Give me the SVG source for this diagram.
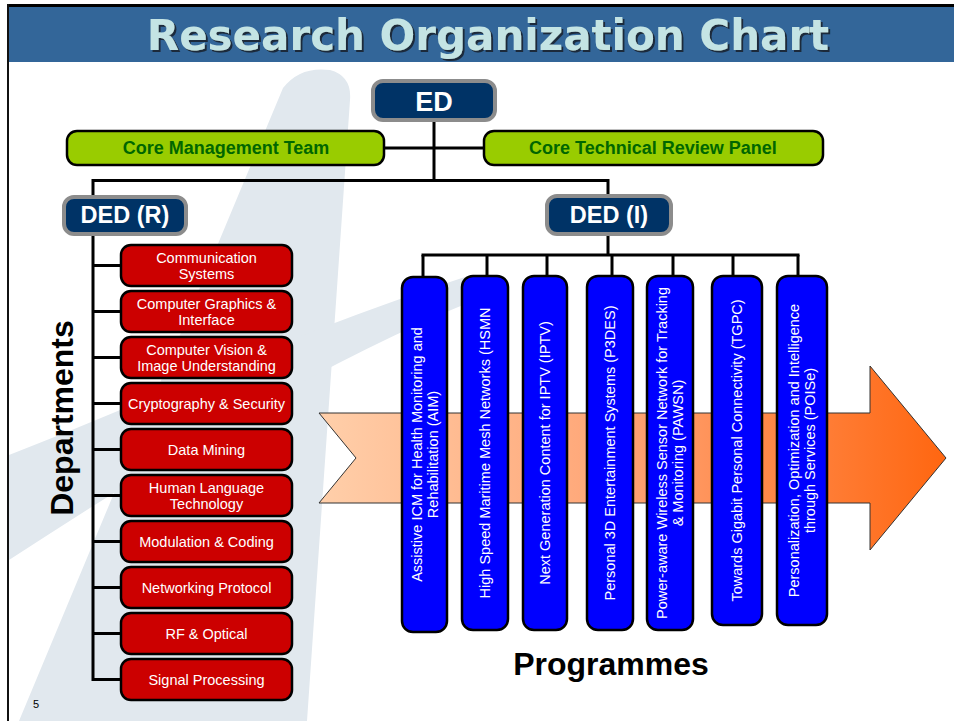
<svg xmlns="http://www.w3.org/2000/svg" width="954" height="721" viewBox="0 0 954 721">
<defs>
<linearGradient id="arrowGrad" x1="319" y1="0" x2="946" y2="0" gradientUnits="userSpaceOnUse">
<stop offset="0" stop-color="#ffcfaa"/>
<stop offset="0.5" stop-color="#ffa272"/>
<stop offset="1" stop-color="#ff6610"/>
</linearGradient>
<filter id="titleShadow" x="-5%" y="-20%" width="110%" height="140%">
<feDropShadow dx="2" dy="2" stdDeviation="0.4" flood-color="#1a2a3a" flood-opacity="1"/>
</filter>
</defs>
<style>
.sans{font-family:"Liberation Sans",Arial,sans-serif}
.exec{fill:#003366;stroke:#8c8c8c;stroke-width:4}
.exect{fill:#ffffff;font-weight:bold;text-anchor:middle}
.core{fill:#99cc00;stroke:#000;stroke-width:2.5}
.coret{fill:#006600;font-weight:bold;font-size:18px;text-anchor:middle}
.dept{fill:#cc0000;stroke:#000;stroke-width:2.5}
.deptt{fill:#ffffff;font-size:14.5px;text-anchor:middle}
.prog{fill:#0000ff;stroke:#000;stroke-width:2.5}
.progt{fill:#ffffff;font-size:14.5px;text-anchor:middle}
.conn{stroke:#000;stroke-width:3;fill:none}
.wm{fill:#e1e8ee}
</style>
<rect x="0" y="0" width="954" height="721" fill="#ffffff"/>
<!-- watermark -->
<g id="watermark">
<path class="wm" d="M283 88 Q300 66 330 70 Q352 76 350 100 L307 721 L19 721 Z"/>
<path d="M230 400 C300 360 380 320 470 285" stroke="#ffffff" stroke-width="10" fill="none" opacity="0.9"/>
<path class="wm" d="M9 455 C150 400 300 330 468 276 L480 298 C320 362 160 462 9 560 Z"/>
</g>
<!-- frame and title -->
<g id="title">
<rect x="9" y="6" width="945" height="56" fill="#336699"/>
<line x1="7" y1="5.5" x2="954" y2="5.5" stroke="#000" stroke-width="3"/>
<line x1="8" y1="4" x2="8" y2="721" stroke="#111" stroke-width="2"/>
<text x="488" y="50" font-family="DejaVu Sans,Verdana,sans-serif" font-weight="bold" font-size="42" text-anchor="middle" fill="#c4e4e4" filter="url(#titleShadow)">Research Organization Chart</text>
</g>
<!-- big arrow -->
<g id="arrow">
<path d="M319 413 L870 413 L870 366 L946 458 L870 550 L870 503 L319 503 L356 458 Z" fill="url(#arrowGrad)" stroke="#333" stroke-width="1"/>
</g>
<!-- connectors -->
<g id="connectors" class="conn">
<line x1="434" y1="121" x2="434" y2="181"/>
<line x1="384" y1="148" x2="484" y2="148"/>
<polyline points="93,197 93,180.5 608,180.5 608,195"/>
<line x1="93" y1="234" x2="93" y2="681"/>
<line x1="92" y1="265.5" x2="121" y2="265.5"/>
<line x1="92" y1="311.5" x2="121" y2="311.5"/>
<line x1="92" y1="357.5" x2="121" y2="357.5"/>
<line x1="92" y1="403.5" x2="121" y2="403.5"/>
<line x1="92" y1="449.5" x2="121" y2="449.5"/>
<line x1="92" y1="495.5" x2="121" y2="495.5"/>
<line x1="92" y1="541.5" x2="121" y2="541.5"/>
<line x1="92" y1="587.5" x2="121" y2="587.5"/>
<line x1="92" y1="633.5" x2="121" y2="633.5"/>
<line x1="92" y1="679.5" x2="121" y2="679.5"/>
<line x1="608" y1="235" x2="608" y2="255"/>
<line x1="421.5" y1="255" x2="799.5" y2="255"/>
<line x1="423" y1="255" x2="423" y2="277"/>
<line x1="487" y1="255" x2="487" y2="276"/>
<line x1="547" y1="255" x2="547" y2="276"/>
<line x1="612" y1="255" x2="612" y2="276"/>
<line x1="673" y1="255" x2="673" y2="276"/>
<line x1="733" y1="255" x2="733" y2="276"/>
<line x1="798" y1="255" x2="798" y2="276"/>
</g>
<!-- executive nodes -->
<g id="node-ed" class="sans">
<rect class="exec" x="373" y="81" width="122" height="39" rx="10"/>
<text class="exect" x="434" y="111" font-size="27">ED</text>
</g>
<g id="node-cmt" class="sans">
<rect class="core" x="67" y="131" width="317" height="34" rx="10"/>
<text class="coret" x="226" y="154">Core Management Team</text>
</g>
<g id="node-ctrp" class="sans">
<rect class="core" x="484" y="131" width="339" height="34" rx="10"/>
<text class="coret" x="653" y="154">Core Technical Review Panel</text>
</g>
<g id="node-dedr" class="sans">
<rect class="exec" x="64" y="197" width="122" height="37" rx="10"/>
<text class="exect" x="125" y="223" font-size="23.5">DED (R)</text>
</g>
<g id="node-dedi" class="sans">
<rect class="exec" x="547" y="196" width="124" height="38" rx="10"/>
<text class="exect" x="609" y="223" font-size="23.5">DED (I)</text>
</g>
<!-- departments -->
<g id="dept-1" class="sans"><rect class="dept" x="121" y="245" width="171" height="41" rx="10"/><text class="deptt" x="206.5" y="263">Communication</text><text class="deptt" x="206.5" y="279">Systems</text></g>
<g id="dept-2" class="sans"><rect class="dept" x="121" y="291" width="171" height="41" rx="10"/><text class="deptt" x="206.5" y="309">Computer Graphics &amp;</text><text class="deptt" x="206.5" y="325">Interface</text></g>
<g id="dept-3" class="sans"><rect class="dept" x="121" y="337" width="171" height="41" rx="10"/><text class="deptt" x="206.5" y="355">Computer Vision &amp;</text><text class="deptt" x="206.5" y="371">Image Understanding</text></g>
<g id="dept-4" class="sans"><rect class="dept" x="121" y="383" width="171" height="41" rx="10"/><text class="deptt" x="206.5" y="408.5">Cryptography &amp; Security</text></g>
<g id="dept-5" class="sans"><rect class="dept" x="121" y="429" width="171" height="41" rx="10"/><text class="deptt" x="206.5" y="454.5">Data Mining</text></g>
<g id="dept-6" class="sans"><rect class="dept" x="121" y="475" width="171" height="41" rx="10"/><text class="deptt" x="206.5" y="493">Human Language</text><text class="deptt" x="206.5" y="509">Technology</text></g>
<g id="dept-7" class="sans"><rect class="dept" x="121" y="521" width="171" height="41" rx="10"/><text class="deptt" x="206.5" y="546.5">Modulation &amp; Coding</text></g>
<g id="dept-8" class="sans"><rect class="dept" x="121" y="567" width="171" height="41" rx="10"/><text class="deptt" x="206.5" y="592.5">Networking Protocol</text></g>
<g id="dept-9" class="sans"><rect class="dept" x="121" y="613" width="171" height="41" rx="10"/><text class="deptt" x="206.5" y="638.5">RF &amp; Optical</text></g>
<g id="dept-10" class="sans"><rect class="dept" x="121" y="659" width="171" height="41" rx="10"/><text class="deptt" x="206.5" y="684.5">Signal Processing</text></g>
<!-- programmes -->
<g id="prog-aim" class="sans"><rect class="prog" x="402" y="277" width="45" height="355" rx="11"/>
<text class="progt" transform="translate(421.5 454.5) rotate(-90)">Assistive ICM for Health Monitoring and</text>
<text class="progt" transform="translate(437.5 454.5) rotate(-90)">Rehabilitation (AIM)</text></g>
<g id="prog-hsmn" class="sans"><rect class="prog" x="462" y="276" width="46" height="354" rx="11"/>
<text class="progt" transform="translate(490 453) rotate(-90)">High Speed Maritime Mesh Networks (HSMN</text></g>
<g id="prog-iptv" class="sans"><rect class="prog" x="523" y="276" width="44" height="354" rx="11"/>
<text class="progt" transform="translate(550 453) rotate(-90)">Next Generation Content for IPTV (IPTV)</text></g>
<g id="prog-p3des" class="sans"><rect class="prog" x="587" y="276" width="46" height="354" rx="11"/>
<text class="progt" transform="translate(615 453) rotate(-90)">Personal 3D Entertainment Systems (P3DES)</text></g>
<g id="prog-pawsn" class="sans"><rect class="prog" x="647" y="276" width="46" height="354" rx="11"/>
<text class="progt" transform="translate(667 453) rotate(-90)">Power-aware Wireless Sensor Network for Tracking</text>
<text class="progt" transform="translate(683 453) rotate(-90)">&amp; Monitoring (PAWSN)</text></g>
<g id="prog-tgpc" class="sans"><rect class="prog" x="712" y="276" width="50" height="349" rx="11"/>
<text class="progt" transform="translate(742 450.5) rotate(-90)">Towards Gigabit Personal Connectivity (TGPC)</text></g>
<g id="prog-poise" class="sans"><rect class="prog" x="777" y="276" width="50" height="349" rx="11"/>
<text class="progt" transform="translate(799 450.5) rotate(-90)">Personalization, Optimization and Intelligence</text>
<text class="progt" transform="translate(815 450.5) rotate(-90)">through Services (POISe)</text></g>
<!-- labels -->
<g id="labels" class="sans">
<text x="0" y="0" transform="translate(73 418) rotate(-90)" font-size="32" font-weight="bold" text-anchor="middle" fill="#000">Departments</text>
<text x="611" y="675" font-size="32" font-weight="bold" text-anchor="middle" fill="#000">Programmes</text>
<text x="33" y="708" font-size="11" fill="#000">5</text>
</g>
</svg>
